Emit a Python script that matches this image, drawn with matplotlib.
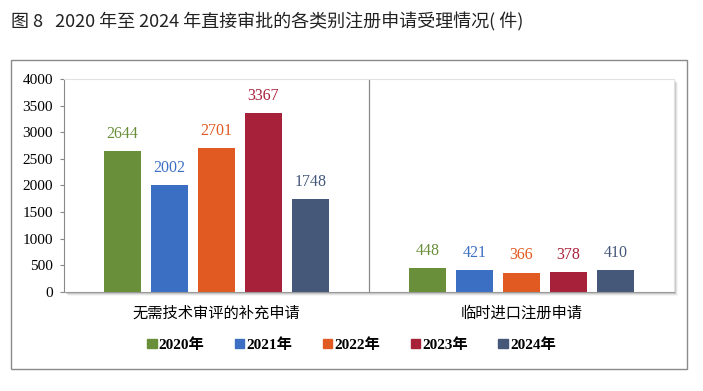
import numpy as np
import matplotlib.pyplot as plt
from matplotlib.patches import Rectangle, Patch

plt.rcParams['font.family'] = ['Liberation Serif', 'Noto Sans CJK SC']

categories = ['无需技术审评的补充申请', '临时进口注册申请']
years = ['2020年', '2021年', '2022年', '2023年', '2024年']
values = [
    [2644, 448],
    [2002, 421],
    [2701, 366],
    [3367, 378],
    [1748, 410],
]
colors = ['#6a8f3a', '#3b6fc3', '#e05a22', '#a8213a', '#45587a']
yticks = [0, 500, 1000, 1500, 2000, 2500, 3000, 3500, 4000]

W, H = 703, 391
fig = plt.figure(figsize=(7.03, 3.91), dpi=100)

# title
fig.text(0.015, 0.945, '图 8   2020 年至 2024 年直接审批的各类别注册申请受理情况( 件)',
         fontsize=13, family=['Noto Sans CJK SC', 'DejaVu Sans'], color='#222222',
         va='center', ha='left')

# outer frame
fig.patches.append(Rectangle((11 / W, 1 - 369 / H), 676 / W, 309 / H,
                             transform=fig.transFigure, fill=False,
                             edgecolor='#8a8a8a', lw=1.0))

# plot panel: x 64..674, y 79..292
px0, px1, py0, py1 = 64, 674, 79, 292
ax = fig.add_axes([px0 / W, 1 - py1 / H, (px1 - px0) / W, (py1 - py0) / H])
ax.set_facecolor('white')
ax.set_zorder(2)

# soft shadow around plot panel
for k, a in enumerate([0.10, 0.18, 0.28]):
    off = 4 - k
    fig.patches.append(Rectangle((px0 / W + off / W, 1 - py1 / H - off / H),
                                 (px1 - px0) / W, (py1 - py0) / H,
                                 transform=fig.transFigure,
                                 facecolor='#000000', alpha=a * 0.4,
                                 edgecolor='none', zorder=0))

x = np.arange(len(categories))
step = 0.154
width = 0.121
for i, (yr, vals, c) in enumerate(zip(years, values, colors)):
    pos = x + (i - 2) * step
    ax.bar(pos, vals, width, color=c, label=yr, zorder=2)
    for p, v in zip(pos, vals):
        ax.text(p, v + 170, str(v), ha='center', va='bottom', color=c,
                fontsize=11.5)

ax.set_xlim(-0.5, 1.5)
ax.set_ylim(0, 4000)
ax.set_yticks(yticks)
ax.set_yticklabels([str(t) for t in yticks], fontsize=11)
ax.tick_params(axis='y', length=3, color='#888888', pad=5)
ax.tick_params(axis='x', length=0, pad=9)
ax.set_xticks(x)
ax.set_xticklabels(categories, fontsize=11,
                   family=['Noto Sans CJK SC', 'DejaVu Sans'])
for s in ['top', 'right']:
    ax.spines[s].set_color('#e2e2e2')
ax.spines['left'].set_color('#888888')
ax.spines['bottom'].set_color('#999999')

# divider between categories
ax.axvline(0.5, color='#888888', lw=0.9, zorder=1)

handles = [Patch(color=c) for c in colors]
leg = fig.legend(handles, years, loc='center', bbox_to_anchor=(0.5, 1 - 345 / H),
                 ncol=5, frameon=False, handlelength=0.6, handleheight=0.6,
                 handletextpad=0.15, columnspacing=2.0,
                 prop={'family': ['Liberation Serif', 'Noto Sans CJK SC'],
                       'weight': 'bold', 'size': 11})

fig.savefig('out.png', dpi=100)
